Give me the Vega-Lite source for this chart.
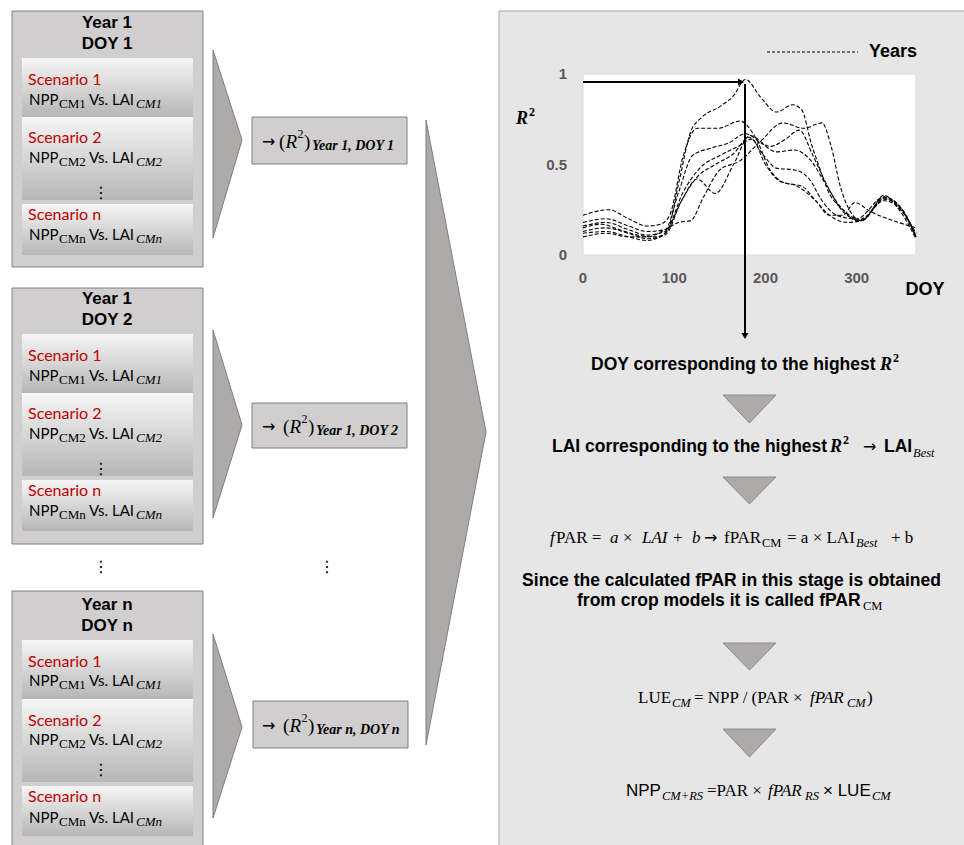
{
  "$schema": "https://vega.github.io/schema/vega-lite/v6.json",
  "width": 964,
  "height": 845,
  "autosize": {"type": "none"},
  "padding": 0,
  "background": "white",
  "config": {"view": {"stroke": null}},
  "datasets": {
    "outer": [{"x":12,"x2":203,"y":11,"y2":267},{"x":12,"x2":203,"y":288,"y2":544},{"x":12,"x2":203,"y":591,"y2":850}],
    "sub": [{"x":22,"x2":193,"y":58,"y2":117},{"x":22,"x2":193,"y":117,"y2":200},{"x":22,"x2":193,"y":204,"y2":255},
            {"x":22,"x2":193,"y":334,"y2":393},{"x":22,"x2":193,"y":393,"y2":476},{"x":22,"x2":193,"y":480,"y2":531},
            {"x":22,"x2":193,"y":640,"y2":699},{"x":22,"x2":193,"y":699,"y2":782},{"x":22,"x2":193,"y":786,"y2":836}],
    "mid": [{"x":252,"x2":407,"y":117,"y2":164},{"x":252,"x2":407,"y":403,"y2":448},{"x":253,"x2":408,"y":701,"y2":748}],
    "panel": [{"x":499,"x2":966,"y":11,"y2":850}],
    "plot": [{"x":583,"x2":916,"y":74,"y2":255}],
    "rightTri": [{"id":"a","x":213,"y":50,"y2":238},{"id":"a","x":242,"y":140,"y2":140},
                 {"id":"b","x":213,"y":330,"y2":518},{"id":"b","x":242,"y":425,"y2":425},
                 {"id":"c","x":213,"y":634,"y2":818},{"id":"c","x":242,"y":727,"y2":727},
                 {"id":"d","x":426,"y":120,"y2":745},{"id":"d","x":486,"y":432,"y2":432}],
    "downTri": [{"id":"t1","x":723,"y":395,"y2":395},{"id":"t1","x":749.5,"y":395,"y2":423},{"id":"t1","x":776,"y":395,"y2":395},
                {"id":"t2","x":723,"y":477,"y2":477},{"id":"t2","x":749.5,"y":477,"y2":504},{"id":"t2","x":776,"y":477,"y2":477},
                {"id":"t3","x":723,"y":643,"y2":643},{"id":"t3","x":749.5,"y":643,"y2":670},{"id":"t3","x":776,"y":643,"y2":643},
                {"id":"t4","x":723,"y":729,"y2":729},{"id":"t4","x":749.5,"y":729,"y2":757},{"id":"t4","x":776,"y":729,"y2":729}],
    "legendLine": [{"x":767,"x2":858,"y":52,"y2":52}],
    "arrowLines": [{"x":583,"x2":739,"y":82,"y2":82},{"x":745,"x2":745,"y":84,"y2":333}],
    "arrowRight": [{"x":741,"y":82}],
    "arrowDown": [{"x":745,"y":336}],
    "tTitle": [{"x":107,"y":23,"t":"Year 1"},{"x":107,"y":44,"t":"DOY 1"},{"x":107,"y":299,"t":"Year 1"},{"x":107,"y":320,"t":"DOY 2"},{"x":107,"y":605,"t":"Year n"},{"x":107,"y":626,"t":"DOY n"}],
    "tRed": [{"x":28,"y":80,"t":"Scenario 1"},{"x":28,"y":138,"t":"Scenario 2"},{"x":28,"y":215,"t":"Scenario n"},
             {"x":28,"y":356,"t":"Scenario 1"},{"x":28,"y":414,"t":"Scenario 2"},{"x":28,"y":491,"t":"Scenario n"},
             {"x":28,"y":662,"t":"Scenario 1"},{"x":28,"y":721,"t":"Scenario 2"},{"x":28,"y":797,"t":"Scenario n"}],
    "tBody": [{"x":29,"y":100,"t":"NPP"},{"x":89,"y":100,"t":"Vs. LAI"},{"x":29,"y":158,"t":"NPP"},{"x":89,"y":158,"t":"Vs. LAI"},{"x":29,"y":235,"t":"NPP"},{"x":89,"y":235,"t":"Vs. LAI"},
              {"x":29,"y":376,"t":"NPP"},{"x":89,"y":376,"t":"Vs. LAI"},{"x":29,"y":434,"t":"NPP"},{"x":89,"y":434,"t":"Vs. LAI"},{"x":29,"y":511,"t":"NPP"},{"x":89,"y":511,"t":"Vs. LAI"},
              {"x":29,"y":681,"t":"NPP"},{"x":89,"y":681,"t":"Vs. LAI"},{"x":29,"y":740,"t":"NPP"},{"x":89,"y":740,"t":"Vs. LAI"},{"x":29,"y":818,"t":"NPP"},{"x":89,"y":818,"t":"Vs. LAI"}],
    "tBoxSubUp": [{"x":59,"y":104,"t":"CM1"},{"x":59,"y":162,"t":"CM2"},{"x":59,"y":239,"t":"CMn"},
                  {"x":59,"y":380,"t":"CM1"},{"x":59,"y":438,"t":"CM2"},{"x":59,"y":515,"t":"CMn"},
                  {"x":59,"y":685,"t":"CM1"},{"x":59,"y":744,"t":"CM2"},{"x":59,"y":822,"t":"CMn"}],
    "tBoxSubIt": [{"x":136,"y":104,"t":"CM1"},{"x":136,"y":162,"t":"CM2"},{"x":136,"y":239,"t":"CMn"},
                  {"x":136,"y":380,"t":"CM1"},{"x":136,"y":438,"t":"CM2"},{"x":136,"y":515,"t":"CMn"},
                  {"x":136,"y":685,"t":"CM1"},{"x":136,"y":744,"t":"CM2"},{"x":136,"y":822,"t":"CMn"}],
    "tDots": [{"x":101,"y":193,"t":"⋮"},{"x":101,"y":469,"t":"⋮"},{"x":101,"y":770,"t":"⋮"},{"x":101,"y":567,"t":"⋮"},{"x":327,"y":567,"t":"⋮"}],
    "tArrow": [{"x":262,"y":142,"t":"→"},{"x":262,"y":427,"t":"→"},{"x":262,"y":726,"t":"→"},{"x":863,"y":447,"t":"→"},{"x":704,"y":538,"t":"→"}],
    "tBoxSerif": [{"x":279,"y":142,"t":"("},{"x":304,"y":142,"t":")"},
                  {"x":283,"y":427,"t":"("},{"x":308,"y":427,"t":")"},
                  {"x":283,"y":726,"t":"("},{"x":308,"y":726,"t":")"}],
    "tBoxSerifIt": [{"x":285.5,"y":142,"t":"R"},{"x":289.5,"y":427,"t":"R"},{"x":289.5,"y":726,"t":"R"}],
    "tSup": [{"x":297.5,"y":134,"t":"2"},{"x":301.5,"y":419,"t":"2"},{"x":301.5,"y":718,"t":"2"}],
    "tMidSub": [{"x":312,"y":146,"t":"Year 1, DOY 1"},{"x":316,"y":431,"t":"Year 1, DOY 2"},{"x":316,"y":730,"t":"Year n, DOY n"}],
    "tSerif": [{"x":556,"y":538,"t":"PAR ="},{"x":623,"y":538,"t":"×"},{"x":673,"y":538,"t":"+"},{"x":724,"y":538,"t":"fPAR"},{"x":787,"y":538,"t":"= a × LAI"},{"x":891,"y":538,"t":"+ b"},
               {"x":638,"y":698,"t":"LUE"},{"x":694,"y":698,"t":"= NPP / (PAR ×"},{"x":867,"y":698,"t":")"},
               {"x":707,"y":791,"t":"=PAR ×"}],
    "tSerifIt": [{"x":550,"y":538,"t":"f"},{"x":610,"y":538,"t":"a"},{"x":642,"y":538,"t":"LAI"},{"x":692,"y":538,"t":"b"},
                 {"x":810,"y":698,"t":"fPAR"},{"x":768,"y":791,"t":"fPAR"}],
    "tBold": [{"x":591,"y":365,"t":"DOY corresponding to the highest"},{"x":552,"y":447,"t":"LAI corresponding to the highest"},{"x":884,"y":447,"t":"LAI"},
              {"x":577,"y":601,"t":"from crop models it is called  fPAR"}],
    "tBoldC": [{"x":731.5,"y":581,"t":"Since the calculated fPAR  in this stage is obtained"}],
    "tRbi": [{"x":880,"y":365,"t":"R"},{"x":830,"y":447,"t":"R"},{"x":516,"y":119,"t":"R"}],
    "tSupB": [{"x":893,"y":358,"t":"2"},{"x":843,"y":440,"t":"2"},{"x":529,"y":112,"t":"2"}],
    "tSubUp13": [{"x":762,"y":543,"t":"CM"},{"x":863,"y":606,"t":"CM"}],
    "tSubIt13": [{"x":856,"y":543,"t":"Best"},{"x":913,"y":453,"t":"Best"},{"x":672,"y":703,"t":"CM"},{"x":847,"y":703,"t":"CM"},{"x":662,"y":796,"t":"CM+RS"},{"x":805,"y":796,"t":"RS"},{"x":872,"y":796,"t":"CM"}],
    "tSans": [{"x":626,"y":791,"t":"NPP"},{"x":823,"y":791,"t":"× LUE"}],
    "tChartDOY": [{"x":925,"y":290,"t":"DOY"}],
    "tChartYears": [{"x":869,"y":52,"t":"Years"}],
    "ticksX": [{"doy":0,"r2":-0.127,"t":"0"},{"doy":100,"r2":-0.127,"t":"100"},{"doy":200,"r2":-0.127,"t":"200"},{"doy":300,"r2":-0.127,"t":"300"}],
    "ticksY": [{"doy":-17.5,"r2":0,"t":"0"},{"doy":-17.5,"r2":0.5,"t":"0.5"},{"doy":-17.5,"r2":1,"t":"1"}],
    "series": [
      {"yr":1,"doy":0,"r2":0.15},{"yr":1,"doy":20,"r2":0.17},{"yr":1,"doy":40,"r2":0.14},{"yr":1,"doy":60,"r2":0.11},{"yr":1,"doy":80,"r2":0.1},{"yr":1,"doy":92,"r2":0.13},{"yr":1,"doy":105,"r2":0.4},{"yr":1,"doy":118,"r2":0.68},{"yr":1,"doy":130,"r2":0.76},{"yr":1,"doy":150,"r2":0.82},{"yr":1,"doy":165,"r2":0.88},{"yr":1,"doy":178,"r2":0.97},{"yr":1,"doy":195,"r2":0.87},{"yr":1,"doy":212,"r2":0.79},{"yr":1,"doy":230,"r2":0.83},{"yr":1,"doy":240,"r2":0.8},{"yr":1,"doy":250,"r2":0.62},{"yr":1,"doy":258,"r2":0.5},{"yr":1,"doy":270,"r2":0.34},{"yr":1,"doy":285,"r2":0.25},{"yr":1,"doy":300,"r2":0.19},{"yr":1,"doy":312,"r2":0.22},{"yr":1,"doy":330,"r2":0.33},{"yr":1,"doy":345,"r2":0.26},{"yr":1,"doy":365,"r2":0.09},
      {"yr":2,"doy":0,"r2":0.22},{"yr":2,"doy":28,"r2":0.25},{"yr":2,"doy":50,"r2":0.2},{"yr":2,"doy":70,"r2":0.16},{"yr":2,"doy":85,"r2":0.17},{"yr":2,"doy":95,"r2":0.22},{"yr":2,"doy":110,"r2":0.55},{"yr":2,"doy":125,"r2":0.7},{"yr":2,"doy":148,"r2":0.7},{"yr":2,"doy":172,"r2":0.74},{"yr":2,"doy":190,"r2":0.64},{"yr":2,"doy":205,"r2":0.47},{"yr":2,"doy":220,"r2":0.4},{"yr":2,"doy":240,"r2":0.38},{"yr":2,"doy":255,"r2":0.3},{"yr":2,"doy":270,"r2":0.22},{"yr":2,"doy":290,"r2":0.18},{"yr":2,"doy":305,"r2":0.19},{"yr":2,"doy":330,"r2":0.3},{"yr":2,"doy":350,"r2":0.24},{"yr":2,"doy":365,"r2":0.12},
      {"yr":3,"doy":0,"r2":0.18},{"yr":3,"doy":25,"r2":0.2},{"yr":3,"doy":50,"r2":0.16},{"yr":3,"doy":70,"r2":0.13},{"yr":3,"doy":90,"r2":0.14},{"yr":3,"doy":105,"r2":0.35},{"yr":3,"doy":120,"r2":0.55},{"yr":3,"doy":140,"r2":0.59},{"yr":3,"doy":160,"r2":0.62},{"yr":3,"doy":178,"r2":0.67},{"yr":3,"doy":195,"r2":0.62},{"yr":3,"doy":212,"r2":0.57},{"yr":3,"doy":232,"r2":0.58},{"yr":3,"doy":250,"r2":0.52},{"yr":3,"doy":265,"r2":0.4},{"yr":3,"doy":280,"r2":0.28},{"yr":3,"doy":295,"r2":0.21},{"yr":3,"doy":305,"r2":0.19},{"yr":3,"doy":330,"r2":0.31},{"yr":3,"doy":350,"r2":0.25},{"yr":3,"doy":365,"r2":0.1},
      {"yr":4,"doy":0,"r2":0.13},{"yr":4,"doy":25,"r2":0.15},{"yr":4,"doy":50,"r2":0.12},{"yr":4,"doy":70,"r2":0.09},{"yr":4,"doy":90,"r2":0.11},{"yr":4,"doy":108,"r2":0.3},{"yr":4,"doy":125,"r2":0.43},{"yr":4,"doy":145,"r2":0.5},{"yr":4,"doy":165,"r2":0.56},{"yr":4,"doy":182,"r2":0.65},{"yr":4,"doy":198,"r2":0.55},{"yr":4,"doy":212,"r2":0.48},{"yr":4,"doy":232,"r2":0.47},{"yr":4,"doy":248,"r2":0.42},{"yr":4,"doy":262,"r2":0.3},{"yr":4,"doy":278,"r2":0.22},{"yr":4,"doy":300,"r2":0.2},{"yr":4,"doy":330,"r2":0.32},{"yr":4,"doy":350,"r2":0.25},{"yr":4,"doy":365,"r2":0.1},
      {"yr":5,"doy":0,"r2":0.16},{"yr":5,"doy":25,"r2":0.18},{"yr":5,"doy":50,"r2":0.14},{"yr":5,"doy":70,"r2":0.11},{"yr":5,"doy":90,"r2":0.13},{"yr":5,"doy":108,"r2":0.3},{"yr":5,"doy":125,"r2":0.42},{"yr":5,"doy":145,"r2":0.34},{"yr":5,"doy":165,"r2":0.5},{"yr":5,"doy":183,"r2":0.66},{"yr":5,"doy":205,"r2":0.6},{"yr":5,"doy":222,"r2":0.64},{"yr":5,"doy":237,"r2":0.69},{"yr":5,"doy":252,"r2":0.55},{"yr":5,"doy":268,"r2":0.38},{"yr":5,"doy":285,"r2":0.24},{"yr":5,"doy":305,"r2":0.19},{"yr":5,"doy":330,"r2":0.32},{"yr":5,"doy":350,"r2":0.25},{"yr":5,"doy":365,"r2":0.1},
      {"yr":6,"doy":0,"r2":0.1},{"yr":6,"doy":25,"r2":0.12},{"yr":6,"doy":50,"r2":0.1},{"yr":6,"doy":70,"r2":0.1},{"yr":6,"doy":90,"r2":0.14},{"yr":6,"doy":105,"r2":0.18},{"yr":6,"doy":118,"r2":0.19},{"yr":6,"doy":132,"r2":0.32},{"yr":6,"doy":150,"r2":0.47},{"yr":6,"doy":172,"r2":0.52},{"yr":6,"doy":195,"r2":0.63},{"yr":6,"doy":219,"r2":0.73},{"yr":6,"doy":242,"r2":0.7},{"yr":6,"doy":262,"r2":0.73},{"yr":6,"doy":272,"r2":0.6},{"yr":6,"doy":282,"r2":0.38},{"yr":6,"doy":293,"r2":0.24},{"yr":6,"doy":305,"r2":0.19},{"yr":6,"doy":330,"r2":0.31},{"yr":6,"doy":350,"r2":0.24},{"yr":6,"doy":365,"r2":0.1},
      {"yr":7,"doy":0,"r2":0.12},{"yr":7,"doy":25,"r2":0.13},{"yr":7,"doy":50,"r2":0.1},{"yr":7,"doy":70,"r2":0.08},{"yr":7,"doy":90,"r2":0.12},{"yr":7,"doy":110,"r2":0.35},{"yr":7,"doy":128,"r2":0.48},{"yr":7,"doy":150,"r2":0.55},{"yr":7,"doy":170,"r2":0.6},{"yr":7,"doy":185,"r2":0.64},{"yr":7,"doy":200,"r2":0.5},{"yr":7,"doy":215,"r2":0.41},{"yr":7,"doy":235,"r2":0.38},{"yr":7,"doy":255,"r2":0.3},{"yr":7,"doy":270,"r2":0.22},{"yr":7,"doy":285,"r2":0.22},{"yr":7,"doy":298,"r2":0.29},{"yr":7,"doy":315,"r2":0.24},{"yr":7,"doy":340,"r2":0.19},{"yr":7,"doy":365,"r2":0.15}
    ]
  },
  "layer": [
    {
      "encoding": {
        "x": {"field": "x", "type": "quantitative", "scale": {"domain": [0, 964], "nice": false, "zero": false}, "axis": null},
        "y": {"field": "y", "type": "quantitative", "scale": {"domain": [0, 845], "nice": false, "zero": false, "reverse": true}, "axis": null}
      },
      "layer": [
        {"data": {"name": "outer"}, "mark": {"type": "rect", "fill": "#d0cece", "stroke": "#808080", "strokeWidth": 1},
         "encoding": {"x2": {"field": "x2"}, "y2": {"field": "y2"}}},
        {"data": {"name": "sub"}, "mark": {"type": "rect", "fill": {"gradient": "linear", "x1": 0, "y1": 0, "x2": 0, "y2": 1, "stops": [{"offset": 0, "color": "#f6f6f6"}, {"offset": 1, "color": "#b6b6b6"}]}},
         "encoding": {"x2": {"field": "x2"}, "y2": {"field": "y2"}}},
        {"data": {"name": "mid"}, "mark": {"type": "rect", "fill": "#d0cece", "stroke": "#7f7f7f", "strokeWidth": 1},
         "encoding": {"x2": {"field": "x2"}, "y2": {"field": "y2"}}},
        {"data": {"name": "panel"}, "mark": {"type": "rect", "fill": "#e7e6e6", "stroke": "#a5a5a5", "strokeWidth": 1},
         "encoding": {"x2": {"field": "x2"}, "y2": {"field": "y2"}}},
        {"data": {"name": "plot"}, "mark": {"type": "rect", "fill": "#ffffff", "stroke": "#d9d9d9", "strokeWidth": 1},
         "encoding": {"x2": {"field": "x2"}, "y2": {"field": "y2"}}},
        {"data": {"name": "rightTri"}, "mark": {"type": "area", "fill": "#aeaaaa", "stroke": "#7f7f7f", "strokeWidth": 1},
         "encoding": {"y": {"field": "y", "type": "quantitative", "stack": null}, "y2": {"field": "y2"}, "detail": {"field": "id"}}},
        {"data": {"name": "downTri"}, "mark": {"type": "area", "fill": "#aeaaaa", "stroke": "#8a8a8a", "strokeWidth": 1},
         "encoding": {"y": {"field": "y", "type": "quantitative", "stack": null}, "y2": {"field": "y2"}, "detail": {"field": "id"}}},
        {"data": {"name": "legendLine"}, "mark": {"type": "rule", "color": "#000000", "strokeWidth": 1, "strokeDash": [3, 2]},
         "encoding": {"x2": {"field": "x2"}, "y2": {"field": "y2"}}},
        {"data": {"name": "tTitle"}, "mark": {"type": "text", "font": "Liberation Sans", "fontWeight": "bold", "fontSize": 17, "align": "center", "baseline": "middle", "color": "#000000"},
         "encoding": {"text": {"field": "t"}}},
        {"data": {"name": "tRed"}, "mark": {"type": "text", "font": "Lato", "fontSize": 16, "align": "left", "baseline": "middle", "color": "#c00000"},
         "encoding": {"text": {"field": "t"}}},
        {"data": {"name": "tBody"}, "mark": {"type": "text", "font": "Lato", "fontSize": 15, "align": "left", "baseline": "middle", "color": "#000000"},
         "encoding": {"text": {"field": "t"}}},
        {"data": {"name": "tBoxSubUp"}, "mark": {"type": "text", "font": "Liberation Serif", "fontSize": 13, "align": "left", "baseline": "middle", "color": "#000000"},
         "encoding": {"text": {"field": "t"}}},
        {"data": {"name": "tBoxSubIt"}, "mark": {"type": "text", "font": "Liberation Serif", "fontStyle": "italic", "fontSize": 13, "align": "left", "baseline": "middle", "color": "#000000"},
         "encoding": {"text": {"field": "t"}}},
        {"data": {"name": "tDots"}, "mark": {"type": "text", "font": "DejaVu Sans", "fontSize": 16, "align": "center", "baseline": "middle", "color": "#000000"},
         "encoding": {"text": {"field": "t"}}},
        {"data": {"name": "tArrow"}, "mark": {"type": "text", "font": "DejaVu Sans", "fontSize": 16, "align": "left", "baseline": "middle", "color": "#000000"},
         "encoding": {"text": {"field": "t"}}},
        {"data": {"name": "tBoxSerif"}, "mark": {"type": "text", "font": "Liberation Serif", "fontSize": 19, "align": "left", "baseline": "middle", "color": "#000000"},
         "encoding": {"text": {"field": "t"}}},
        {"data": {"name": "tBoxSerifIt"}, "mark": {"type": "text", "font": "Liberation Serif", "fontStyle": "italic", "fontSize": 19, "align": "left", "baseline": "middle", "color": "#000000"},
         "encoding": {"text": {"field": "t"}}},
        {"data": {"name": "tSup"}, "mark": {"type": "text", "font": "Liberation Serif", "fontSize": 12, "align": "left", "baseline": "middle", "color": "#000000"},
         "encoding": {"text": {"field": "t"}}},
        {"data": {"name": "tMidSub"}, "mark": {"type": "text", "font": "Liberation Serif", "fontStyle": "italic", "fontWeight": "bold", "fontSize": 14, "align": "left", "baseline": "middle", "color": "#000000"},
         "encoding": {"text": {"field": "t"}}},
        {"data": {"name": "tSerif"}, "mark": {"type": "text", "font": "Liberation Serif", "fontSize": 17, "align": "left", "baseline": "middle", "color": "#000000"},
         "encoding": {"text": {"field": "t"}}},
        {"data": {"name": "tSerifIt"}, "mark": {"type": "text", "font": "Liberation Serif", "fontStyle": "italic", "fontSize": 17, "align": "left", "baseline": "middle", "color": "#000000"},
         "encoding": {"text": {"field": "t"}}},
        {"data": {"name": "tBold"}, "mark": {"type": "text", "font": "Liberation Sans", "fontWeight": "bold", "fontSize": 17.5, "align": "left", "baseline": "middle", "color": "#000000"},
         "encoding": {"text": {"field": "t"}}},
        {"data": {"name": "tBoldC"}, "mark": {"type": "text", "font": "Liberation Sans", "fontWeight": "bold", "fontSize": 17.5, "align": "center", "baseline": "middle", "color": "#000000"},
         "encoding": {"text": {"field": "t"}}},
        {"data": {"name": "tRbi"}, "mark": {"type": "text", "font": "Liberation Serif", "fontWeight": "bold", "fontStyle": "italic", "fontSize": 18, "align": "left", "baseline": "middle", "color": "#000000"},
         "encoding": {"text": {"field": "t"}}},
        {"data": {"name": "tSupB"}, "mark": {"type": "text", "font": "Liberation Serif", "fontWeight": "bold", "fontSize": 12, "align": "left", "baseline": "middle", "color": "#000000"},
         "encoding": {"text": {"field": "t"}}},
        {"data": {"name": "tSubUp13"}, "mark": {"type": "text", "font": "Liberation Serif", "fontSize": 12.5, "align": "left", "baseline": "middle", "color": "#000000"},
         "encoding": {"text": {"field": "t"}}},
        {"data": {"name": "tSubIt13"}, "mark": {"type": "text", "font": "Liberation Serif", "fontStyle": "italic", "fontSize": 12.5, "align": "left", "baseline": "middle", "color": "#000000"},
         "encoding": {"text": {"field": "t"}}},
        {"data": {"name": "tSans"}, "mark": {"type": "text", "font": "Liberation Sans", "fontSize": 17, "align": "left", "baseline": "middle", "color": "#000000"},
         "encoding": {"text": {"field": "t"}}},
        {"data": {"name": "tChartDOY"}, "mark": {"type": "text", "font": "Liberation Sans", "fontWeight": "bold", "fontSize": 18, "align": "center", "baseline": "middle", "color": "#000000"},
         "encoding": {"text": {"field": "t"}}},
        {"data": {"name": "tChartYears"}, "mark": {"type": "text", "font": "Liberation Sans", "fontWeight": "bold", "fontSize": 18, "align": "left", "baseline": "middle", "color": "#000000"},
         "encoding": {"text": {"field": "t"}}}
      ]
    },
    {
      "encoding": {
        "x": {"field": "doy", "type": "quantitative", "scale": {"domain": [0, 365], "range": [583, 916], "nice": false, "zero": false}, "axis": null},
        "y": {"field": "r2", "type": "quantitative", "scale": {"domain": [0, 1], "range": [255, 74], "nice": false, "zero": false}, "axis": null}
      },
      "layer": [
        {"data": {"name": "series"}, "mark": {"type": "line", "color": "#000000", "strokeWidth": 1.1, "strokeDash": [4, 2], "interpolate": "monotone"},
         "encoding": {"detail": {"field": "yr", "type": "nominal"}}},
        {"data": {"name": "ticksX"}, "mark": {"type": "text", "font": "Liberation Sans", "fontWeight": "bold", "fontSize": 15, "align": "center", "baseline": "middle", "color": "#595959"},
         "encoding": {"text": {"field": "t"}}},
        {"data": {"name": "ticksY"}, "mark": {"type": "text", "font": "Liberation Sans", "fontWeight": "bold", "fontSize": 15, "align": "right", "baseline": "middle", "color": "#595959"},
         "encoding": {"text": {"field": "t"}}}
      ]
    },
    {
      "encoding": {
        "x": {"field": "x", "type": "quantitative", "scale": {"domain": [0, 964], "nice": false, "zero": false}, "axis": null},
        "y": {"field": "y", "type": "quantitative", "scale": {"domain": [0, 845], "nice": false, "zero": false, "reverse": true}, "axis": null}
      },
      "layer": [
        {"data": {"name": "arrowLines"}, "mark": {"type": "rule", "color": "#000000", "strokeWidth": 2},
         "encoding": {"x2": {"field": "x2"}, "y2": {"field": "y2"}}},
        {"data": {"name": "arrowRight"}, "mark": {"type": "point", "shape": "triangle-right", "filled": true, "color": "#000000", "size": 50, "opacity": 1}},
        {"data": {"name": "arrowDown"}, "mark": {"type": "point", "shape": "triangle-down", "filled": true, "color": "#000000", "size": 50, "opacity": 1}}
      ]
    }
  ],
  "resolve": {"scale": {"x": "independent", "y": "independent"}}
}
